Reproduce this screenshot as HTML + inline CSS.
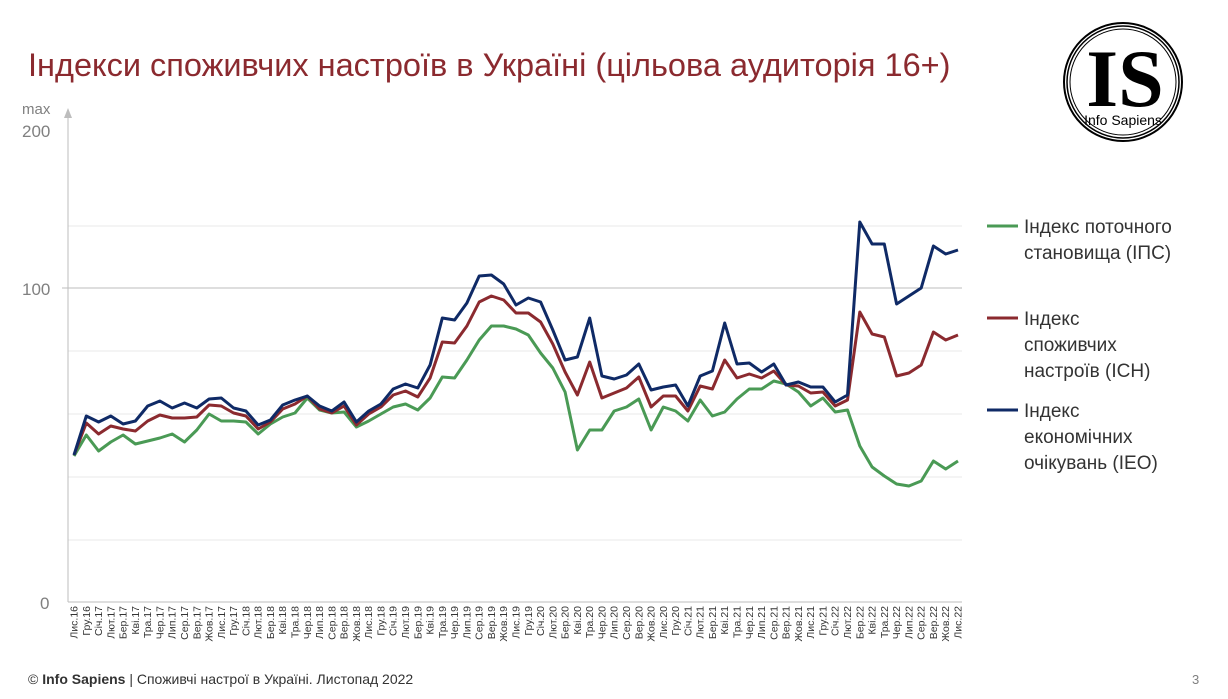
<!DOCTYPE html>
<html><head><meta charset="utf-8"><style>
body{margin:0;background:#fff;width:1228px;height:694px;overflow:hidden;font-family:"Liberation Sans",sans-serif;}
</style></head><body>
<svg width="1228" height="694" viewBox="0 0 1228 694" xmlns="http://www.w3.org/2000/svg" font-family="Liberation Sans, sans-serif">
<text x="28" y="76" font-size="32.5" fill="#8b2a2f">Індекси споживчих настроїв в Україні (цільова аудиторія 16+)</text>
<g>
<circle cx="1123" cy="82" r="59" fill="none" stroke="#000" stroke-width="2"/>
<circle cx="1123" cy="82" r="56" fill="none" stroke="#000" stroke-width="1.5"/>
<circle cx="1123" cy="82" r="53" fill="none" stroke="#000" stroke-width="1"/>
<text x="1125" y="106" font-family="Liberation Serif, serif" font-weight="bold" font-size="82" text-anchor="middle" fill="#000">IS</text>
<text x="1123" y="125" font-size="14" text-anchor="middle" fill="#000">Info Sapiens</text>
</g>
<text x="22" y="114" font-size="15" fill="#808080">max</text>
<text x="22" y="137" font-size="17" fill="#808080">200</text>
<text x="22" y="295" font-size="17" fill="#808080">100</text>
<text x="40" y="609" font-size="17" fill="#808080">0</text>
<g stroke="#e8e8e8" stroke-width="1">
<line x1="68" y1="226" x2="962" y2="226"/><line x1="68" y1="351" x2="962" y2="351"/>
<line x1="68" y1="414" x2="962" y2="414"/><line x1="68" y1="477" x2="962" y2="477"/>
<line x1="68" y1="540" x2="962" y2="540"/>
</g>
<line x1="62" y1="288" x2="962" y2="288" stroke="#bdbdbd" stroke-width="1"/>
<line x1="68" y1="602" x2="962" y2="602" stroke="#bdbdbd" stroke-width="1"/>
<line x1="68" y1="116" x2="68" y2="602" stroke="#bdbdbd" stroke-width="1"/>
<polygon points="64,118 72,118 68,108" fill="#bdbdbd"/>
<g fill="none" stroke-width="3" stroke-linejoin="round">
<polyline id="g" stroke="#4a9a55" points=""/>
<polyline id="r" stroke="#8b2a2f" points=""/>
<polyline id="b" stroke="#0f2a66" points=""/>
</g>
<g id="xl" font-size="10.5" fill="#333"></g>
<g font-size="19" fill="#333">
<line x1="987" y1="226" x2="1018" y2="226" stroke="#4a9a55" stroke-width="3"/>
<text x="1024" y="233">Індекс поточного</text><text x="1024" y="259">становища (ІПС)</text>
<line x1="987" y1="318" x2="1018" y2="318" stroke="#8b2a2f" stroke-width="3"/>
<text x="1024" y="325">Індекс</text><text x="1024" y="351">споживчих</text><text x="1024" y="377">настроїв (ІСН)</text>
<line x1="987" y1="410" x2="1018" y2="410" stroke="#0f2a66" stroke-width="3"/>
<text x="1024" y="417">Індекс</text><text x="1024" y="443">економічних</text><text x="1024" y="469">очікувань (ІЕО)</text>
</g>
<text x="28" y="684" font-size="14" fill="#333">© <tspan font-weight="bold">Info Sapiens</tspan> | Споживчі настрої в Україні. Листопад 2022</text>
<text x="1192" y="684" font-size="13" fill="#808080">3</text>
</svg>
<script>
var G=[456,435,451,442,435,444,441,438,434,442,430,414,421,421,422,434,424,417,413,398,410,413,412,427,421,414,407,404,410,398,377,378,360,340,326,326,329,335,353,368,392,450,430,430,411,407,399,430,407,411,421,400,416,412,399,389,389,381,384,392,406,398,412,410,446,467,476,484,486,481,461,469,461];
var R=[455,423,434,426,429,431,421,415,418,418,417,405,406,413,416,429,422,409,404,396,409,413,406,425,414,407,395,391,397,378,342,343,326,302,296,300,313,313,322,344,372,395,362,398,393,388,377,407,396,396,411,386,389,360,378,374,378,371,385,386,393,392,406,400,312,334,337,376,373,365,332,340,335];
var B=[455,416,422,416,424,421,406,401,408,403,408,399,398,408,411,425,420,405,400,396,406,411,402,422,411,404,389,384,388,365,318,320,303,276,275,284,305,298,302,330,360,357,318,376,379,375,364,390,387,385,406,376,371,323,364,363,372,364,385,382,387,387,402,395,222,244,244,304,296,288,246,254,250];
function X(i){return 74+i*884/72;}
function pts(a){return a.map(function(v,i){return X(i).toFixed(1)+","+v}).join(" ");}
document.getElementById("g").setAttribute("points",pts(G));
document.getElementById("r").setAttribute("points",pts(R));
document.getElementById("b").setAttribute("points",pts(B));
var M=["Січ","Лют","Бер","Кві","Тра","Чер","Лип","Сер","Вер","Жов","Лис","Гру"];
var xl=document.getElementById("xl"),s="";
for(var i=0;i<73;i++){var m=(10+i)%12,y=16+Math.floor((10+i)/12);var x=X(i)+3.5;
s+='<text transform="translate('+x.toFixed(1)+',606) rotate(-90)" text-anchor="end">'+M[m]+'.'+y+'</text>';}
xl.innerHTML=s;
</script>
</body></html>
